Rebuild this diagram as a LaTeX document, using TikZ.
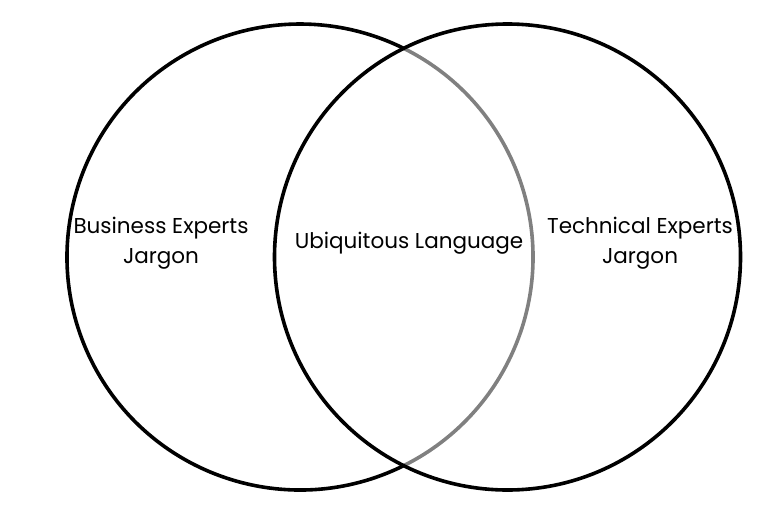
\documentclass[tikz,border=0pt]{standalone}
\usepackage{fontspec}
\setmainfont{Poppins}
\begin{document}
\begin{tikzpicture}[x=1pt,y=-1pt,
  ring/.style={line width=3.6pt,draw=black},
  ringgray/.style={line width=3.6pt,draw=black!50},
  lbl/.style={font=\fontsize{21.5}{30}\selectfont,inner sep=0pt,anchor=base,text=black}]
\useasboundingbox (0,0) rectangle (783,519);
\coordinate (cl) at (300,257);
\coordinate (cr) at (507.5,257);
% left circle: outer arc black, inner arc gray
\draw[ring] (cl) ++(63.55:233) arc[start angle=63.55,end angle=296.45,radius=233];
\draw[ringgray] (cl) ++(-63.55:233) arc[start angle=-63.55,end angle=63.55,radius=233];
% right circle
\draw[ring] (cr) circle[radius=233];
\node[lbl] (biz) at (161,233) {Business Experts};
\node[lbl] (bizj) at (161,263) {Jargon};
\node[lbl] (ubi) at (409,248) {Ubiquitous Language};
\node[lbl] (tech) at (640,233) {Technical Experts};
\node[lbl] (techj) at (640,263) {Jargon};
\end{tikzpicture}
\end{document}
